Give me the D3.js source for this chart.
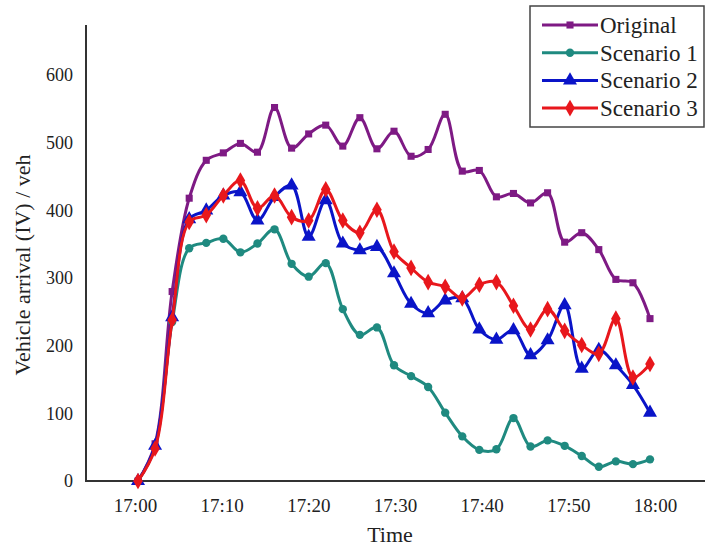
<!DOCTYPE html>
<html><head><meta charset="utf-8">
<script src="https://cdn.jsdelivr.net/npm/d3@7"></script>
<style>body{margin:0;background:#fff}svg{display:block}text{font-family:"Liberation Serif","Times New Roman",serif;fill:#222}</style>
</head><body><svg id="c" width="705" height="551"></svg>
<script>
const minutes = d3.range(0, 61, 2);
const tickLabels = ["17:00","17:10","17:20","17:30","17:40","17:50","18:00"];
const yTicks = [0,100,200,300,400,500,600];
const original  = [0,55,280,418,474,485,499,486,552,492,513,526,495,537,491,517,480,490,542,458,459,420,425,411,426,353,367,342,298,293,240];
const scenario1 = [0,50,235,344,352,358,338,351,372,321,302,322,254,216,227,171,155,139,101,66,46,47,93,51,60,52,37,21,29,25,32];
const scenario2 = [0,52,242,387,400,422,427,385,420,437,361,415,351,341,346,307,262,248,267,270,224,209,223,186,208,260,166,194,171,142,101];
const scenario3 = [0,48,238,383,393,422,444,403,422,390,385,431,385,367,401,339,315,294,287,270,290,294,259,224,254,222,201,188,240,153,173];
const seriesNames = ["Original","Scenario 1","Scenario 2","Scenario 3"];
const seriesColors = ["#7e1a84","#1f8a80","#0a14c8","#e8171c"];
const seriesValues = [original, scenario1, scenario2, scenario3];
const seriesSymbols = [d3.symbolSquare, d3.symbolCircle, d3.symbolTriangle, d3.symbolDiamond];
const symbolSizes = [50, 55, 85, 80];

const svg = d3.select("#c");
const x = d3.scaleLinear().domain([0,60]).range([138,650]);
const xl = d3.scalePoint().domain(tickLabels).range([135,655]);
const y = d3.scaleLinear().domain([0,674]).range([481,25]);

// axes
svg.append("line").attr("x1",86).attr("x2",86).attr("y1",y(674)).attr("y2",y(0)).attr("stroke","#333").attr("stroke-width",2);
svg.append("line").attr("x1",85).attr("x2",705).attr("y1",y(0)).attr("y2",y(0)).attr("stroke","#333").attr("stroke-width",2);

const yAxis = d3.axisLeft(y).tickValues(yTicks).tickSize(0).tickPadding(13);
const gy = svg.append("g").attr("transform","translate(86,0)").call(yAxis);
gy.select(".domain").remove();
gy.selectAll("text").style("font-size","18px").style("font-family","Liberation Serif").attr("fill","#222");

const xAxis = d3.axisBottom(xl).tickSize(0).tickPadding(18);
const gx = svg.append("g").attr("transform",`translate(0,${y(0)})`).call(xAxis);
gx.select(".domain").remove();
gx.selectAll("text").style("font-size","19px").style("font-family","Liberation Serif").attr("fill","#222");

svg.append("text").attr("x",390).attr("y",542).attr("text-anchor","middle").style("font-size","22px").text("Time");
svg.append("text").attr("transform","translate(30,265) rotate(-90)").attr("text-anchor","middle").style("font-size","22px").text("Vehicle arrival (IV) / veh");

const line = d3.line().x((d,i)=>x(minutes[i])).y(d=>y(d)).curve(d3.curveCatmullRom.alpha(0.5));

seriesValues.forEach((vals,k)=>{
  svg.append("path").attr("d",line(vals)).attr("fill","none").attr("stroke",seriesColors[k]).attr("stroke-width",3);
  svg.append("g").selectAll("path").data(vals).join("path")
    .attr("transform",(d,i)=>`translate(${x(minutes[i])},${y(d)})`)
    .attr("d",d3.symbol().type(seriesSymbols[k]).size(symbolSizes[k]))
    .attr("fill",seriesColors[k]);
});

// legend
const lg = svg.append("g");
lg.append("rect").attr("x",530).attr("y",6).attr("width",174).attr("height",121).attr("fill","#fff").attr("stroke","#444").attr("stroke-width",1.5);
seriesNames.forEach((n,k)=>{
  const yy = 25 + k*27.7;
  lg.append("line").attr("x1",542).attr("x2",598).attr("y1",yy).attr("y2",yy).attr("stroke",seriesColors[k]).attr("stroke-width",3);
  lg.append("path").attr("transform",`translate(570,${yy})`).attr("d",d3.symbol().type(seriesSymbols[k]).size(symbolSizes[k])).attr("fill",seriesColors[k]);
  lg.append("text").attr("x",600).attr("y",yy+8).style("font-size","23px").text(n);
});
</script></body></html>
